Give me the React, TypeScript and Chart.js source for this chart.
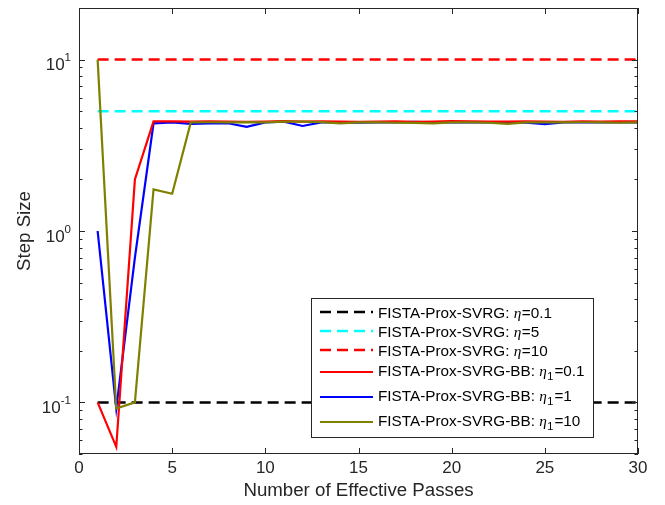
import React, { useEffect, useRef } from "react";
import { Chart, registerables } from "chart.js";

Chart.register(...registerables);

// ---------- data ----------
const passes = [1, 2, 3, 4, 5, 6, 7, 8, 9, 10, 11, 12, 13, 14, 15, 16, 17, 18, 19, 20, 21, 22, 23, 24, 25, 26, 27, 28, 29, 30];

const bbEta01 = [0.1, 0.055, 2.0, 4.36, 4.36, 4.35, 4.36, 4.35, 4.34, 4.35, 4.38, 4.35, 4.36, 4.35, 4.34, 4.35, 4.36, 4.34, 4.35, 4.38, 4.36, 4.35, 4.35, 4.36, 4.35, 4.34, 4.36, 4.35, 4.36, 4.36];
const bbEta1 = [1.0, 0.092, 0.7, 4.25, 4.3, 4.22, 4.24, 4.25, 4.05, 4.3, 4.35, 4.1, 4.3, 4.3, 4.28, 4.3, 4.3, 4.33, 4.3, 4.3, 4.32, 4.3, 4.3, 4.28, 4.2, 4.3, 4.3, 4.32, 4.3, 4.3];
const bbEta10 = [10, 0.092, 0.1, 1.75, 1.65, 4.3, 4.31, 4.3, 4.32, 4.3, 4.35, 4.35, 4.32, 4.25, 4.3, 4.31, 4.28, 4.27, 4.25, 4.3, 4.3, 4.28, 4.22, 4.3, 4.3, 4.3, 4.31, 4.3, 4.28, 4.3];

const constEtas = [0.1, 5, 10];
const constRange = [1, 30];

const xTickValues = [0, 5, 10, 15, 20, 25, 30];
const yMajorExps = [-1, 0, 1];

const legendPrefixes = ["FISTA-Prox-SVRG: ", "FISTA-Prox-SVRG: ", "FISTA-Prox-SVRG: ", "FISTA-Prox-SVRG-BB: ", "FISTA-Prox-SVRG-BB: ", "FISTA-Prox-SVRG-BB: "];
const legendSubs = ["", "", "", "1", "1", "1"];
const legendValues = ["0.1", "5", "10", "0.1", "1", "10"];
const legendColors = ["#000000", "#00ffff", "#ff0000", "#ff0000", "#0000ff", "#808000"];
const legendDashed = [true, true, true, false, false, false];

const AXIS = "#262626";
const SANS = '"Liberation Sans", Arial, sans-serif';
const SERIF = '"Liberation Serif", "Times New Roman", serif';

const decorPlugin = {
  id: "decor",
  afterDraw(chart: any) {
    const { ctx, chartArea } = chart;
    const xs = chart.scales.x;
    const ys = chart.scales.y;
    const { left, right, top, bottom } = chartArea;
    ctx.save();
    ctx.strokeStyle = AXIS;
    ctx.lineWidth = 1;
    ctx.setLineDash([]);
    ctx.strokeRect(Math.round(left) + 0.5, Math.round(top) + 0.5, Math.round(right - left) - 1, Math.round(bottom - top) - 1);

    // x ticks (inward, bottom and top)
    ctx.beginPath();
    for (const v of xTickValues) {
      const px = Math.round(xs.getPixelForValue(v)) + 0.5;
      ctx.moveTo(px, bottom);
      ctx.lineTo(px, bottom - 6);
      ctx.moveTo(px, top);
      ctx.lineTo(px, top + 6);
    }
    // y ticks
    for (let e = -2; e <= 1; e++) {
      for (let k = 1; k <= 9; k++) {
        const v = k * Math.pow(10, e);
        if (v < ys.min || v > ys.max) continue;
        const py = Math.round(ys.getPixelForValue(v)) + 0.5;
        const len = k === 1 ? 6 : 3.5;
        ctx.moveTo(left, py);
        ctx.lineTo(left + len, py);
        ctx.moveTo(right, py);
        ctx.lineTo(right - len, py);
      }
    }
    ctx.stroke();

    // y labels 10^n
    ctx.fillStyle = AXIS;
    ctx.textBaseline = "alphabetic";
    for (const e of yMajorExps) {
      const py = ys.getPixelForValue(Math.pow(10, e));
      const exp = String(e).replace("-", "-");
      ctx.font = `11.5px ${SANS}`;
      const ew = ctx.measureText(exp).width;
      const endX = left - 8;
      ctx.textAlign = "left";
      ctx.fillText(exp, endX - ew, py + 1.5);
      ctx.font = `17px ${SANS}`;
      ctx.textAlign = "right";
      ctx.fillText("10", endX - ew, py + 10.7);
    }

    // legend
    const bx = 311, by = 298, bw = 282, bh = 139;
    ctx.fillStyle = "#ffffff";
    ctx.fillRect(bx, by, bw, bh);
    ctx.strokeStyle = AXIS;
    ctx.lineWidth = 1;
    ctx.strokeRect(bx + 0.5, by + 0.5, bw, bh);
    let cy = 312;
    for (let i = 0; i < legendPrefixes.length; i++) {
      const hasSub = legendSubs[i] !== "";
      if (i > 0) {
        const prevSub = legendSubs[i - 1] !== "";
        cy += (prevSub ? 25 : 19) / 2 + (hasSub ? 25 : 19) / 2;
      }
      ctx.strokeStyle = legendColors[i];
      ctx.lineWidth = legendDashed[i] ? 2.5 : 2.2;
      ctx.setLineDash(legendDashed[i] ? [11, 6] : []);
      ctx.beginPath();
      ctx.moveTo(320, cy);
      ctx.lineTo(373, cy);
      ctx.stroke();
      ctx.setLineDash([]);
      const textCy = hasSub ? cy - 2 : cy;
      const base = textCy + 5.5;
      let tx = 378;
      ctx.fillStyle = "#000000";
      ctx.textAlign = "left";
      ctx.font = `15.3px ${SANS}`;
      ctx.fillText(legendPrefixes[i], tx, base);
      tx += ctx.measureText(legendPrefixes[i]).width;
      ctx.font = `italic 15.3px ${SERIF}`;
      ctx.fillText("η", tx, base);
      tx += ctx.measureText("η").width + 0.5;
      if (hasSub) {
        ctx.font = `11px ${SANS}`;
        ctx.fillText(legendSubs[i], tx, base + 4);
        tx += ctx.measureText(legendSubs[i]).width + 1;
      }
      ctx.font = `15.3px ${SANS}`;
      ctx.fillText("=" + legendValues[i], tx, base);
    }
    ctx.restore();
  },
};

export default function App() {
  const ref = useRef<HTMLCanvasElement | null>(null);
  useEffect(() => {
    document.body.style.margin = "0";
    const canvas = ref.current!;
    const toPts = (ys: number[]) => ys.map((y, i) => ({ x: passes[i], y }));
    const constPts = (v: number) => constRange.map((x) => ({ x, y: v }));
    const chart = new Chart(canvas, {
      type: "line",
      data: {
        datasets: [
          { label: "c0.1", data: constPts(constEtas[0]), borderColor: "#000000", borderWidth: 2.5, borderDash: [11, 6], order: 5 },
          { label: "c5", data: constPts(constEtas[1]), borderColor: "#00ffff", borderWidth: 2.5, borderDash: [11, 6], order: 4 },
          { label: "c10", data: constPts(constEtas[2]), borderColor: "#ff0000", borderWidth: 2.5, borderDash: [11, 6], order: 3 },
          { label: "bb0.1", data: toPts(bbEta01), borderColor: "#ff0000", borderWidth: 2.2, order: 1 },
          { label: "bb1", data: toPts(bbEta1), borderColor: "#0000ff", borderWidth: 2.2, order: 2 },
          { label: "bb10", data: toPts(bbEta10), borderColor: "#808000", borderWidth: 2.2, order: 0 },
        ].map((d) => ({ ...d, pointRadius: 0, tension: 0, fill: false, backgroundColor: d.borderColor })) as any,
      },
      options: {
        animation: false,
        responsive: false,
        events: [],
        layout: { padding: { top: 8, right: 27, left: 0, bottom: 0 } },
        plugins: { legend: { display: false }, tooltip: { enabled: false } },
        scales: {
          x: {
            type: "linear",
            min: 0,
            max: 30,
            grid: { display: false, drawTicks: false },
            border: { display: false },
            ticks: { stepSize: 5, padding: 4, color: AXIS, font: { family: SANS, size: 17 }, maxRotation: 0 },
            title: { display: true, text: "Number of Effective Passes", color: AXIS, font: { family: SANS, size: 18.7 }, padding: { top: 0, bottom: 3 } },
            afterFit: (s: any) => { s.height = 51; },
          },
          y: {
            type: "logarithmic",
            min: 0.05,
            max: 20,
            grid: { display: false, drawTicks: false },
            border: { display: false },
            ticks: { display: false },
            title: { display: true, text: "Step Size", color: AXIS, font: { family: SANS, size: 18.7 }, padding: { top: 14, bottom: 0 } },
            afterFit: (s: any) => { s.width = 79; },
          },
        },
      },
      plugins: [decorPlugin],
    });
    return () => chart.destroy();
  }, []);
  return <canvas ref={ref} width={665} height={505} style={{ display: "block" }} />;
}
